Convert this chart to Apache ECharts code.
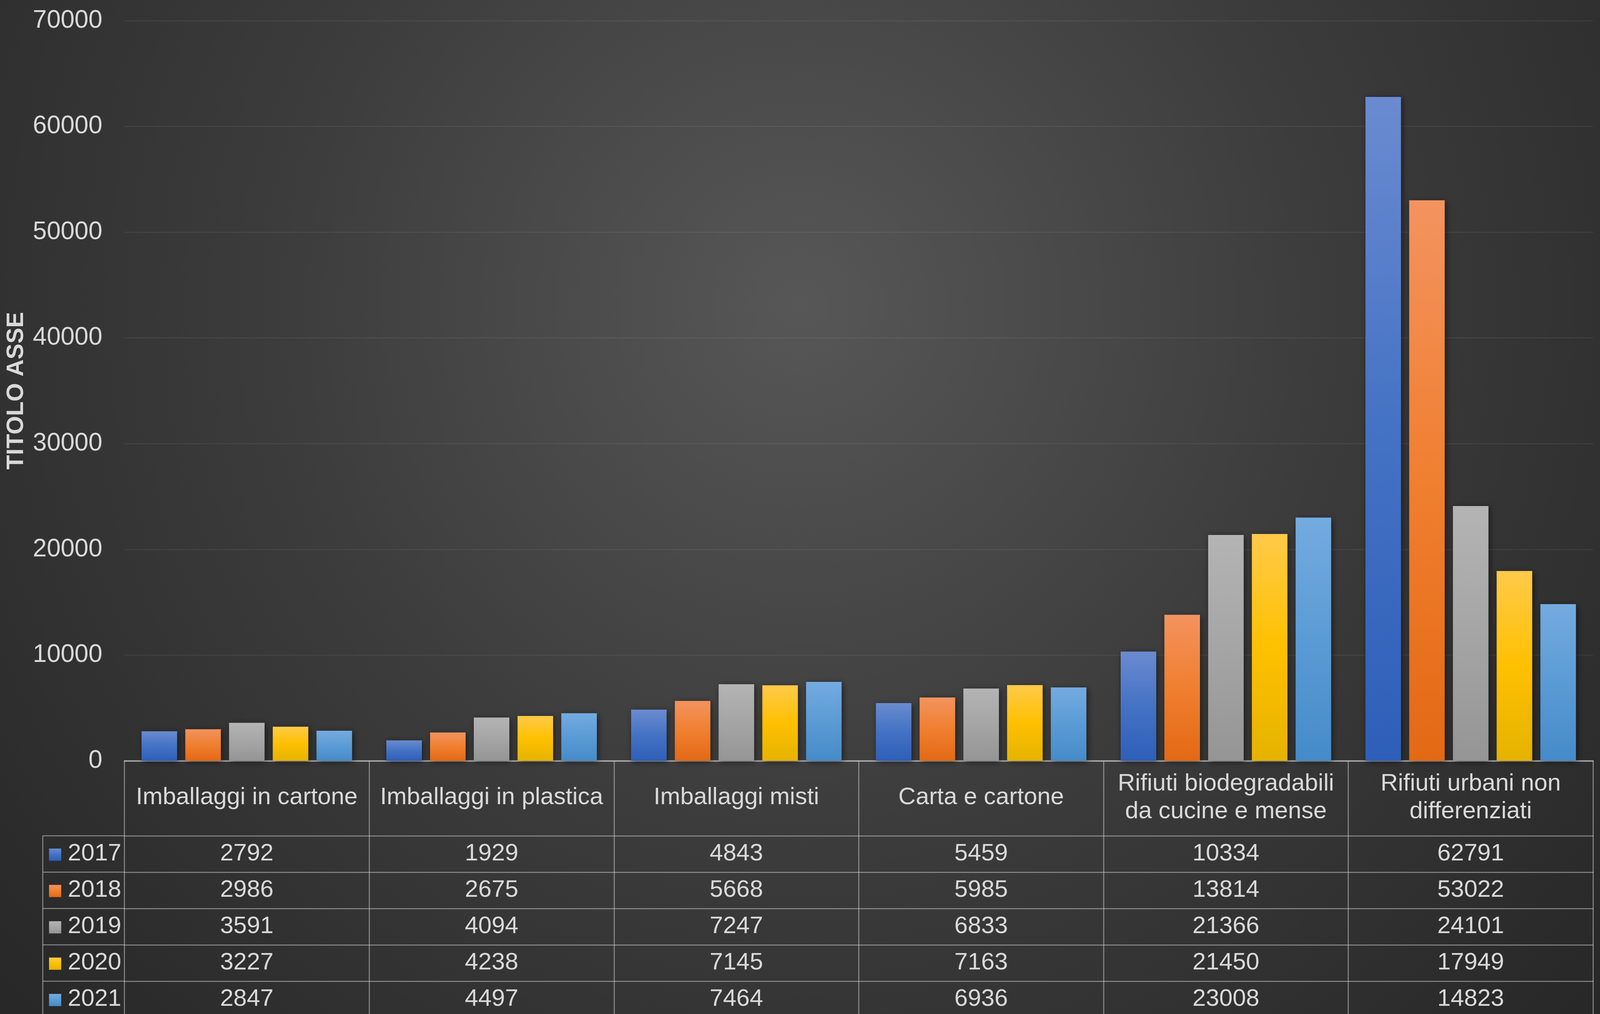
<!DOCTYPE html>
<html>
<head>
<meta charset="utf-8">
<script src="https://cdn.jsdelivr.net/npm/echarts@6/dist/echarts.min.js"></script>
<style>
html,body{margin:0;padding:0;width:100%;height:100%;overflow:hidden;background:#2a2a2a;}
#chart{width:100vw;height:100vh;}
</style>
</head>
<body>
<div id="chart"></div>
<script>
// ---- data ----
const categories = [
  'Imballaggi in cartone',
  'Imballaggi in plastica',
  'Imballaggi misti',
  'Carta e cartone',
  'Rifiuti biodegradabili\nda cucine e mense',
  'Rifiuti urbani non\ndifferenziati'
];
const years = ['2017', '2018', '2019', '2020', '2021'];
const v2017 = [2792, 1929, 4843, 5459, 10334, 62791];
const v2018 = [2986, 2675, 5668, 5985, 13814, 53022];
const v2019 = [3591, 4094, 7247, 6833, 21366, 24101];
const v2020 = [3227, 4238, 7145, 7163, 21450, 17949];
const v2021 = [2847, 4497, 7464, 6936, 23008, 14823];
const seriesValues = [v2017, v2018, v2019, v2020, v2021];
const yTicks = { min: 0, max: 70000, interval: 10000 };
const axisTitle = 'TITOLO ASSE';

// ---- styles ----
const FONT = '"Liberation Sans", Arial, sans-serif';
const TXT = '#d9d9d9';
const gradStops = [
  ['#6a8bd0', '#4472c4', '#2e5fb8'],
  ['#f3935f', '#f07f30', '#e36914'],
  ['#b4b4b4', '#a5a5a5', '#959595'],
  ['#ffca4a', '#ffc000', '#e5b300'],
  ['#74abe0', '#5b9bd5', '#458bc9']
];
function grad(i) {
  return new echarts.graphic.LinearGradient(0, 0, 0, 1, [
    { offset: 0, color: gradStops[i][0] },
    { offset: 0.5, color: gradStops[i][1] },
    { offset: 1, color: gradStops[i][2] }
  ]);
}

const el = document.getElementById('chart');
const chart = echarts.init(el, null, { renderer: 'canvas' });

function build() {
  const W = chart.getWidth(), H = chart.getHeight();
  const sx = W / 4861, sy = H / 2595, s = Math.min(sx, sy);
  const X = v => v * sx, Y = v => v * sy;

  const gridLeft = X(378), gridRight = X(4840), gridTop = Y(53), zeroY = Y(1947);
  const headerH = Y(192), rowH = Y(93), legendColLeft = X(130);
  const FS = 73 * s;
  const lineColor = 'rgba(205,205,205,0.58)';

  const xAxes = [];
  xAxes.push({
    type: 'category', data: categories, position: 'bottom', gridIndex: 0,
    axisLine: { show: true, lineStyle: { color: 'rgba(215,215,215,0.72)', width: 4 * s } },
    axisTick: { show: true, interval: 0, length: headerH, lineStyle: { color: lineColor, width: 3 * s } },
    axisLabel: {
      interval: 0, color: TXT, fontSize: FS, fontFamily: FONT, lineHeight: 84 * s,
      margin: headerH / 2 - 2 * s, verticalAlign: 'middle', align: 'center'
    },
    splitLine: { show: false }
  });
  seriesValues.forEach((vals, r) => {
    xAxes.push({
      type: 'category', data: categories, position: 'bottom', gridIndex: 0,
      offset: headerH + r * rowH,
      axisLine: { show: true, lineStyle: { color: lineColor, width: 3 * s } },
      axisTick: { show: true, interval: 0, length: rowH, lineStyle: { color: lineColor, width: 3 * s } },
      axisLabel: {
        interval: 0, color: TXT, fontSize: FS, fontFamily: FONT,
        margin: rowH / 2, verticalAlign: 'middle', align: 'center',
        formatter: (v, idx) => String(vals[idx])
      },
      splitLine: { show: false }
    });
  });

  // left legend column (table row headers)
  const graphics = [];
  for (let r = 0; r < years.length; r++) {
    const top = zeroY + headerH + r * rowH;
    graphics.push({
      type: 'line', silent: true,
      shape: { x1: legendColLeft, y1: top, x2: gridLeft, y2: top },
      style: { stroke: lineColor, lineWidth: 3 * s }
    });
    const key = 37 * s;
    graphics.push({
      type: 'rect', silent: true,
      shape: { x: X(149), y: top + rowH / 2 - key / 2 + 2 * s, width: key, height: key },
      style: { fill: grad(r) }
    });
    graphics.push({
      type: 'text', silent: true,
      x: X(206), y: top + rowH / 2,
      style: { text: years[r], fill: TXT, fontSize: FS, fontFamily: FONT, verticalAlign: 'middle', align: 'left' }
    });
  }
  graphics.push({
    type: 'line', silent: true,
    shape: { x1: legendColLeft, y1: zeroY + headerH, x2: legendColLeft, y2: H + 10 },
    style: { stroke: lineColor, lineWidth: 3 * s }
  });

  return {
    animation: false,
    backgroundColor: {
      type: 'radial', x: 0.5, y: 0.3, r: 1.15,
      colorStops: [
        { offset: 0, color: '#575757' },
        { offset: 0.45, color: '#3c3c3c' },
        { offset: 0.85, color: '#2a2a2a' },
        { offset: 1, color: '#252525' }
      ]
    },
    textStyle: { fontFamily: FONT },
    grid: { left: gridLeft, right: W - gridRight, top: gridTop, bottom: H - zeroY, containLabel: false },
    xAxis: xAxes,
    yAxis: {
      type: 'value', min: yTicks.min, max: yTicks.max, interval: yTicks.interval,
      name: axisTitle, nameLocation: 'middle', nameGap: X(262),
      nameTextStyle: { color: TXT, fontSize: 72 * s, fontWeight: 'bold', fontFamily: FONT },
      axisLine: { show: false }, axisTick: { show: false },
      axisLabel: { color: TXT, fontSize: 76 * s, fontFamily: FONT, margin: X(67), formatter: v => String(v) },
      splitLine: { lineStyle: { color: 'rgba(255,255,255,0.07)', width: 3 * s } }
    },
    series: seriesValues.map((vals, i) => ({
      type: 'bar', name: years[i], data: vals, xAxisIndex: 0, yAxisIndex: 0,
      barCategoryGap: '14%', barGap: '23%',
      itemStyle: {
        color: grad(i),
        shadowColor: 'rgba(0,0,0,0.55)', shadowBlur: 18 * s, shadowOffsetX: 4 * s, shadowOffsetY: 4 * s
      }
    })),
    graphic: graphics
  };
}

chart.setOption(build());
window.addEventListener('resize', () => { chart.resize(); chart.setOption(build(), true); });
</script>
</body>
</html>
